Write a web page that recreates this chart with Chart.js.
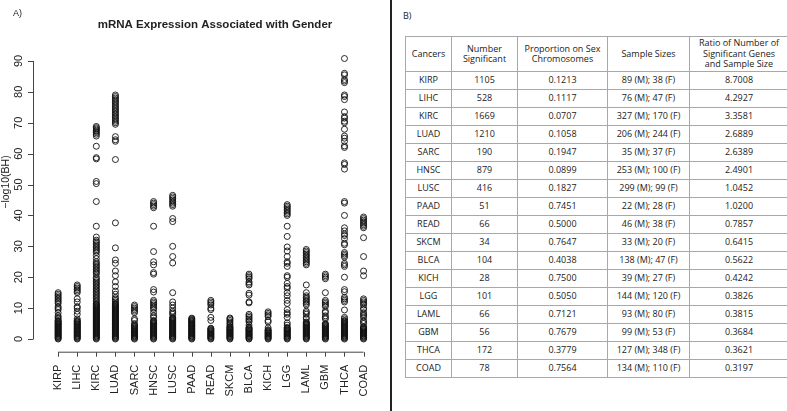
<!DOCTYPE html>
<html>
<head>
<meta charset="utf-8">
<script src="https://cdn.jsdelivr.net/npm/chart.js@4.4.0/dist/chart.umd.min.js"></script>
<style>
  body { margin: 0; background: #fff; width: 787px; height: 411px; position: relative; overflow: hidden; }
  #left { position: absolute; left: 0; top: 0; width: 390px; height: 411px; }
  #divider { position: absolute; left: 390px; top: 0; width: 2px; height: 411px; background: #222; }
  #lblB { position: absolute; left: 403px; top: 9px; font: 9px "Open Sans", sans-serif; color: #222; }
  table { position: absolute; left: 405px; top: 36px; width: 383px; border-collapse: collapse;
          font: 9px "Open Sans", sans-serif; color: #222; table-layout: fixed; }
  td, th { border: 1px solid #a8a8a8; text-align: center; padding: 0; font-weight: normal; height: 17px; line-height: 10.5px; }
  th { height: 34px; }
</style>
</head>
<body>
<div id="left"><canvas id="myChart" width="390" height="411"></canvas></div>
<div id="divider"></div>
<div id="lblB">B)</div>
<table id="tbl">
  <colgroup><col style="width:46px"><col style="width:66px"><col style="width:90px"><col style="width:82px"><col style="width:99px"></colgroup>
  <thead><tr>
    <th>Cancers</th><th>Number<br>Significant</th><th>Proportion on Sex<br>Chromosomes</th><th>Sample Sizes</th><th>Ratio of Number of<br>Significant Genes<br>and Sample Size</th>
  </tr></thead>
  <tbody></tbody>
</table>
<script>
// categories (same order in the plot and in the table)
var cancers = ['KIRP','LIHC','KIRC','LUAD','SARC','HNSC','LUSC','PAAD','READ','SKCM','BLCA','KICH','LGG','LAML','GBM','THCA','COAD'];

// table columns
var numSignificant = [1105, 528, 1669, 1210, 190, 879, 416, 51, 66, 34, 104, 28, 101, 66, 56, 172, 78];
var propSexChrom = ['0.1213','0.1117','0.0707','0.1058','0.1947','0.0899','0.1827','0.7451','0.5000','0.7647','0.4038','0.7500','0.5050','0.7121','0.7679','0.3779','0.7564'];
var sampleSizes = ['89 (M); 38 (F)','76 (M); 47 (F)','327 (M); 170 (F)','206 (M); 244 (F)','35 (M); 37 (F)','253 (M); 100 (F)','299 (M); 99 (F)','22 (M); 28 (F)','46 (M); 38 (F)','33 (M); 20 (F)','138 (M); 47 (F)','39 (M); 27 (F)','144 (M); 120 (F)','93 (M); 80 (F)','99 (M); 53 (F)','127 (M); 348 (F)','134 (M); 110 (F)'];
var ratioGenes = ['8.7008','4.2927','3.3581','2.6889','2.6389','2.4901','1.0452','1.0200','0.7857','0.6415','0.5622','0.4242','0.3826','0.3815','0.3684','0.3621','0.3197'];

// -log10(BH) values (the packed black base of each strip is listed point by point)
var kirp = [0,0.25,0.5,0.75,1,1.25,1.5,1.75,2,2.25,2.5,2.75,3,3.25,3.5,3.75,4,4.25,4.5,4.75,5,5.25,5.5,5.75,6,
            6.5,7,7.5,8.5,9.5,10,10.5,11.5,12,12.5,13,13.5,14,14.5,15];
var lihc = [0,0.25,0.5,0.75,1,1.25,1.5,1.75,2,2.25,2.5,2.75,3,3.25,3.5,3.75,4,4.25,4.5,4.75,5,5.25,5.5,5.75,6,
            6.5,8,9,10,10.5,12,13,15,15.5,16,16.5,17,17.5];
var kirc = [0,0.25,0.5,0.75,1,1.25,1.5,1.75,2,2.25,2.5,2.75,3,3.25,3.5,3.75,4,4.25,4.5,4.75,5,5.25,5.5,5.75,6,
            6.25,6.5,6.75,7,7.25,7.5,7.75,8,8.25,8.5,8.75,9,9.25,9.5,9.75,10,10.25,10.5,10.75,11,11.25,11.5,
            12,12.5,13,13.5,14,14.5,15,15.5,16,16.5,17,17.5,18,18.5,19,19.5,20,21,21.5,22,22.5,23,23.5,24,24.5,25,
            26,27,28,28.5,29,29.5,30,30.5,31,31.5,32,33,36.5,44.5,50.3,51,58.3,58.7,62.4,65.7,66.3,66.8,67.2,67.6,68,68.4,68.8];
var luad = [0,0.25,0.5,0.75,1,1.25,1.5,1.75,2,2.25,2.5,2.75,3,3.25,3.5,3.75,4,4.25,4.5,4.75,5,5.25,5.5,5.75,6,
            6.25,6.5,6.75,7,7.25,7.5,7.75,8,8.25,8.5,8.75,9,9.25,9.5,9.75,10,10.25,10.5,10.75,11,11.25,11.5,
            12,12.5,13,13.5,14.5,15.5,17,18.5,20.5,22,24.5,25.6,29.5,37.6,58.1,64,64.5,65.5,
            69.5,70,70.5,71,71.5,72,72.5,73,73.5,74,74.5,75,75.5,76,76.5,77,77.5,78,78.5,79];
var sarc = [0,0.25,0.5,0.75,1,1.25,1.5,1.75,2,2.25,2.5,2.75,3,3.25,3.5,3.75,4,4.25,4.5,
            5,6,6.5,8.5,9,9.5,10,10.5,11];
var hnsc = [0,0.25,0.5,0.75,1,1.25,1.5,1.75,2,2.25,2.5,2.75,3,3.25,3.5,3.75,4,4.25,4.5,4.75,5,5.25,5.5,5.75,6,
            7,7.5,8.5,9.5,10,10.5,11,11.5,12,12.5,15.2,16,21,21.5,24,25,28.3,36.5,42.5,43,43.5,44,44.5];
var lusc = [0,0.25,0.5,0.75,1,1.25,1.5,1.75,2,2.25,2.5,2.75,3,3.25,3.5,3.75,4,4.25,4.5,4.75,5,5.25,5.5,5.75,6,
            6.25,6.5,6.75,7,8,8.5,9,10,11,12,15,24.6,26.7,30,38,39,43,43.5,44,44.5,45,45.5,46,46.5];
var paad = [0,0.25,0.5,0.75,1,1.25,1.5,1.75,2,2.25,2.5,2.75,3,3.25,3.5,3.75,4,4.25,4.5,4.75,5,5.25,5.5,5.75,6,
            6.25,6.5,6.75];
var read = [0,0.25,0.5,0.75,1,1.25,1.5,1.75,2,2.25,2.5,2.75,3,3.25,3.5,
            6,7,9.5,10,11,11.5,12,12.5];
var skcm = [0,0.25,0.5,0.75,1,1.25,1.5,1.75,2,2.25,2.5,2.75,3,3.25,3.5,3.75,4,
            4.5,5,5.5,6,6.5,6.8];
var blca = [0,0.25,0.5,0.75,1,1.25,1.5,1.75,2,2.25,2.5,2.75,3,3.25,3.5,3.75,
            4.5,5.5,6,6.5,7,7.5,8,11.7,12,14.2,14.8,17.5,18,18.5,19.5,20,20.5,21];
var kich = [0,0.25,0.5,0.75,1,1.25,1.5,1.75,2,2.25,2.5,2.75,3,
            3.6,5.5,6,7.3,7.8,8.3,8.8];
var lgg  = [0,0.25,0.5,0.75,1,1.25,1.5,1.75,2,2.25,2.5,2.75,3,3.25,3.5,3.75,
            4.5,5.2,7,8,8.5,9.5,11.5,12.5,14,15,16.5,17,18,20,20.5,23.5,24.5,25,26.7,28.5,29.8,33.2,36.5,40,40.5,41,41.5,42,42.5,43,43.5];
var laml = [0,0.25,0.5,0.75,1,1.25,1.5,1.75,2,2.25,2.5,2.75,3,3.25,3.5,3.75,4,4.25,4.5,4.75,5,5.25,5.5,
            6.5,7,8,8.5,9,11,11.5,12,12.5,13,13.5,14,15,17.5,24,24.5,25,25.5,26,26.5,27,27.5,28,28.5,29];
var gbm  = [0,0.25,0.5,0.75,1,1.25,1.5,1.75,2,2.25,2.5,2.75,3,3.25,3.5,3.75,4,4.25,4.5,4.75,5,
            6.5,7,7.5,8.5,9,10.5,11,11.5,12,12.5,15,19.5,20,20.5,21];
var thca = [0,0.25,0.5,0.75,1,1.25,1.5,1.75,2,2.25,2.5,2.75,3,3.25,3.5,3.75,4,4.25,4.5,4.75,5,5.25,5.5,5.75,6,
            6.5,7,9.4,12,12.5,13,13.5,15.3,16,20,23.5,24,24.5,26.5,27,27.5,28,30.5,31,32.5,33.5,34,35,36,40,44,44.5,
            55,56.5,57,62,62.5,64,65,65.7,67.9,70,70.5,71.5,72,73.5,77.5,78.5,79,83,83.5,84,85.5,86,90.8];
var coad = [0,0.25,0.5,0.75,1,1.25,1.5,1.75,2,2.25,2.5,2.75,3,3.25,3.5,3.75,4,
            5,5.5,6,7,7.5,8,8.5,9.5,10,11,11.5,12,12.5,13,20.5,22,26.7,32.8,36,36.5,37,37.5,38,38.5,39,39.5];

var series = [kirp, lihc, kirc, luad, sarc, hnsc, lusc, paad, read, skcm, blca, kich, lgg, laml, gbm, thca, coad];
var yTicks = [0,10,20,30,40,50,60,70,80,90];

// table rows
var tbody = document.querySelector('#tbl tbody');
for (var i = 0; i < cancers.length; i++) {
    var tr = document.createElement('tr');
    [cancers[i], numSignificant[i], propSexChrom[i], sampleSizes[i], ratioGenes[i]].forEach(function (v) {
        var td = document.createElement('td');
        td.textContent = v;
        tr.appendChild(td);
    });
    tbody.appendChild(tr);
}

// points
var pts = [];
series.forEach(function (arr, i) {
    arr.forEach(function (v) { pts.push({ x: i, y: v }); });
});

var axisColor = '#444';
var fontFam = '"Liberation Sans", Arial, sans-serif';

// R-style axes, title and labels
var rAxes = {
    id: 'rAxes',
    afterDraw: function (chart) {
        var ctx = chart.ctx;
        var xs = chart.scales.x, ys = chart.scales.y;
        var left = chart.chartArea.left, bottom = chart.chartArea.bottom;
        ctx.save();
        ctx.strokeStyle = axisColor;
        ctx.lineWidth = 1;
        // y axis
        ctx.beginPath();
        ctx.moveTo(left + 0.5, ys.getPixelForValue(0));
        ctx.lineTo(left + 0.5, ys.getPixelForValue(90));
        yTicks.forEach(function (t) {
            var p = Math.round(ys.getPixelForValue(t)) + 0.5;
            ctx.moveTo(left + 0.5, p);
            ctx.lineTo(left - 5, p);
        });
        // x axis
        ctx.moveTo(xs.getPixelForValue(0), bottom + 0.5);
        ctx.lineTo(xs.getPixelForValue(cancers.length - 1), bottom + 0.5);
        cancers.forEach(function (c, i) {
            var p = Math.round(xs.getPixelForValue(i)) + 0.5;
            ctx.moveTo(p, bottom + 0.5);
            ctx.lineTo(p, bottom + 5);
        });
        ctx.stroke();

        ctx.fillStyle = '#222';
        ctx.font = '11px ' + fontFam;
        ctx.textAlign = 'center';
        ctx.textBaseline = 'middle';
        yTicks.forEach(function (t) {
            ctx.save();
            ctx.translate(19, ys.getPixelForValue(t));
            ctx.rotate(-Math.PI / 2);
            ctx.fillText(String(t), 0, 0);
            ctx.restore();
        });
        ctx.save();
        ctx.font = '10.5px ' + fontFam;
        ctx.translate(6, 182);
        ctx.rotate(-Math.PI / 2);
        ctx.fillText('\u2212log10(BH)', 0, 0);
        ctx.restore();

        ctx.font = 'bold 11.5px ' + fontFam;
        ctx.fillText('mRNA Expression Associated with Gender', 215, 25);
        ctx.font = '9px ' + fontFam;
        ctx.textAlign = 'left';
        ctx.fillText('A)', 13, 14);
        ctx.restore();
    }
};

var ctx = document.getElementById('myChart').getContext('2d');
var myChart = new Chart(ctx, {
    type: 'scatter',
    data: {
        datasets: [{
            label: '-log10(BH)',
            data: pts,
            pointStyle: 'circle',
            pointRadius: 3,
            pointBorderWidth: 0.9,
            pointBorderColor: '#111',
            pointBackgroundColor: 'rgba(0,0,0,0)',
            showLine: false
        }]
    },
    plugins: [rAxes],
    options: {
        responsive: false,
        animation: false,
        layout: { padding: { top: 48, right: 7, left: 0, bottom: 0 } },
        plugins: { legend: { display: false }, tooltip: { enabled: false } },
        scales: {
            x: {
                type: 'linear',
                min: -1.317,
                max: 16.61,
                border: { display: false },
                grid: { display: false, drawTicks: false },
                afterBuildTicks: function (s) { s.ticks = cancers.map(function (c, i) { return { value: i }; }); },
                afterFit: function (s) { s.height = 59.3; },
                ticks: {
                    autoSkip: false,
                    minRotation: 90,
                    maxRotation: 90,
                    padding: 13,
                    color: '#222',
                    font: { family: fontFam, size: 11 },
                    callback: function (v) { return cancers[v]; }
                }
            },
            y: {
                type: 'linear',
                min: -4.11,
                max: 94.2,
                border: { display: false },
                grid: { display: false, drawTicks: false },
                afterFit: function (s) { s.width = 33; },
                ticks: { display: false }
            }
        }
    }
});
</script>
</body>
</html>
